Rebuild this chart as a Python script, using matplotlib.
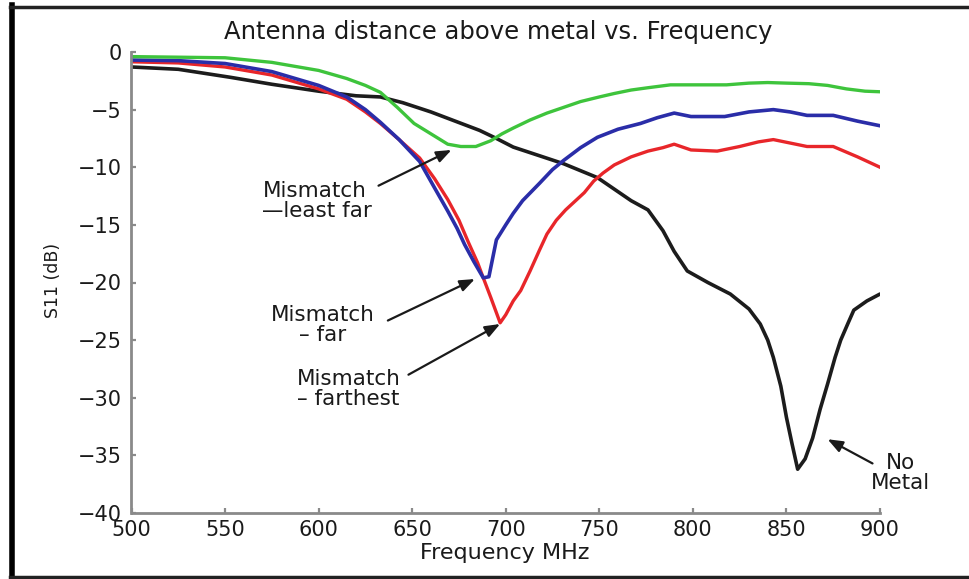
import matplotlib
matplotlib.use("Agg")
import matplotlib.pyplot as plt
from matplotlib.lines import Line2D

plt.rcParams['font.family'] = ['DejaVu Sans']

# ---- data (frequency MHz, S11 dB) ----
green_f = [500, 525, 550, 575, 600, 615, 625, 633, 642, 651, 660, 669, 676, 684, 692, 698, 704,
           713, 722, 731, 740, 750, 758, 767, 776, 788, 800, 818, 830, 840, 850, 862, 872, 882, 892, 900]
green_db = [-0.4, -0.45, -0.5, -0.9, -1.6, -2.3, -2.9, -3.5, -4.8, -6.2, -7.1, -8.0, -8.2, -8.2, -7.7, -7.1, -6.6,
            -5.9, -5.3, -4.8, -4.3, -3.9, -3.6, -3.3, -3.1, -2.85, -2.85, -2.85, -2.7, -2.65, -2.7, -2.75, -2.9, -3.2, -3.4, -3.45]

blue_f = [500, 525, 550, 575, 600, 615, 625, 633, 643, 654, 662, 669, 674, 678, 683, 688, 691, 695, 700,
          704, 709, 718, 725, 731, 740, 749, 760, 772, 781, 790, 799, 817, 830, 843, 852, 861, 875, 888, 900]
blue_db = [-0.7, -0.75, -1.0, -1.7, -2.9, -3.9, -5.0, -6.1, -7.6, -9.5, -11.8, -13.8, -15.3, -16.7, -18.2, -19.6, -19.5, -16.3, -15.0,
           -14.0, -12.9, -11.4, -10.2, -9.4, -8.3, -7.4, -6.7, -6.2, -5.7, -5.3, -5.6, -5.6, -5.2, -5.0, -5.2, -5.5, -5.5, -6.0, -6.4]

red_f = [500, 525, 550, 575, 600, 615, 625, 633, 643, 654, 662, 669, 675, 680, 685, 688, 692, 697, 700,
         704, 708, 713, 718, 722, 727, 732, 736, 742, 747, 752, 758, 767, 776, 784, 790, 799, 813, 825,
         835, 843, 852, 861, 875, 888, 900]
red_db = [-0.85, -0.95, -1.3, -2.0, -3.2, -4.1, -5.2, -6.2, -7.6, -9.2, -11.0, -12.8, -14.6, -16.5, -18.3, -19.6, -21.3, -23.5, -22.8,
          -21.6, -20.7, -19.0, -17.2, -15.8, -14.6, -13.7, -13.1, -12.2, -11.2, -10.5, -9.8, -9.1, -8.6, -8.3, -8.0, -8.5, -8.6, -8.2,
          -7.8, -7.6, -7.9, -8.2, -8.2, -9.1, -10.0]

black_f = [500, 525, 553, 575, 600, 620, 633, 645, 660, 673, 686, 695, 704, 718, 731, 740, 749, 758, 767,
           776, 784, 790, 797, 808, 820, 830, 836, 840, 843, 847, 850, 853, 856, 860, 864, 868, 872, 876,
           879, 883, 886, 893, 900]
black_db = [-1.3, -1.5, -2.2, -2.8, -3.4, -3.8, -3.9, -4.4, -5.2, -6.0, -6.8, -7.5, -8.25, -9.0, -9.7, -10.3, -10.9, -11.9, -12.9,
            -13.7, -15.5, -17.3, -19.0, -20.0, -21.0, -22.3, -23.6, -25.0, -26.5, -29.0, -31.7, -34.0, -36.2, -35.3, -33.5, -31.0, -28.8, -26.5,
            -25.0, -23.5, -22.4, -21.6, -21.0]

x_ticks = [500, 550, 600, 650, 700, 750, 800, 850, 900]
y_ticks = [0, -5, -10, -15, -20, -25, -30, -35, -40]

title = "Antenna distance above metal vs. Frequency"
xlabel = "Frequency MHz"
ylabel = "S11 (dB)"

annotations = [
    ("Mismatch\n\u2014least far", (671, -8.5), (632, -11.6), (570, -12.9), 'left'),
    ("Mismatch\n\u2013 far", (683.5, -19.7), (637, -23.3), (602, -23.7), 'center'),
    ("Mismatch\n\u2013 farthest", (697, -23.6), (648, -28.0), (616, -29.2), 'center'),
    ("No\nMetal", (872, -33.6), (896, -35.7), (911, -36.5), 'center'),
]

W, H = 970, 579
fig = plt.figure(figsize=(W / 100, H / 100), dpi=100)
fig.patch.set_facecolor('white')
ax = fig.add_axes([131.5 / W, 1 - 513 / H, (880 - 131.5) / W, (513 - 52) / H])

ax.plot(black_f, black_db, color='#1c1c1c', lw=2.6, solid_capstyle='round')
ax.plot(red_f, red_db, color='#e8262a', lw=2.4)
ax.plot(blue_f, blue_db, color='#2a2da8', lw=2.6)
ax.plot(green_f, green_db, color='#3ec43c', lw=2.4)

ax.set_xlim(500, 900)
ax.set_ylim(-40, 0)
ax.set_xticks(x_ticks)
ax.set_yticks(y_ticks)
ax.set_xticklabels([str(v) for v in x_ticks])
ax.set_yticklabels([("\u2212" + str(-v)) if v < 0 else str(v) for v in y_ticks])

for s in ['top', 'right']:
    ax.spines[s].set_visible(False)
for s in ['left', 'bottom']:
    ax.spines[s].set_color('#8a8a8a')
    ax.spines[s].set_linewidth(2.0)

ax.tick_params(axis='both', direction='in', length=3.5, width=1.6, color='#8a8a8a',
               labelsize=15, labelcolor='#1a1a1a')
ax.tick_params(axis='x', pad=5)
ax.tick_params(axis='y', pad=7)

ax.set_xlabel(xlabel, fontsize=16, color='#1a1a1a')
ax.xaxis.set_label_coords(0.499, -0.066)
ax.set_ylabel(ylabel, fontsize=12.5, color='#1a1a1a')
ax.yaxis.set_label_coords(-0.093, 0.505)

fig.text(498 / W, 1 - 32 / H, title, ha='center', va='center', fontsize=17.5, color='#1a1a1a')

for text, tip, tail, tpos, ha in annotations:
    ax.annotate('', xy=tip, xytext=tail,
                arrowprops=dict(arrowstyle='-|>,head_length=0.9,head_width=0.35',
                                color='#1a1a1a', lw=1.6, shrinkA=0, shrinkB=0),
                annotation_clip=False)
    ax.text(tpos[0], tpos[1], text, ha=ha, va='center', fontsize=15.5, color='#1a1a1a',
            linespacing=1.0, clip_on=False, multialignment=ha)

# outer frame
fig.add_artist(Line2D([12.5 / W, 12.5 / W], [1 - 5 / H, 1 - 578 / H], transform=fig.transFigure,
                      color='black', lw=4))
fig.add_artist(Line2D([10 / W, 1.0], [1 - 6.5 / H, 1 - 6.5 / H], transform=fig.transFigure,
                      color='#222222', lw=2.5))
fig.add_artist(Line2D([10 / W, 1.0], [1 - 577 / H, 1 - 577 / H], transform=fig.transFigure,
                      color='#222222', lw=2.5))

fig.savefig('out.png', dpi=100)
